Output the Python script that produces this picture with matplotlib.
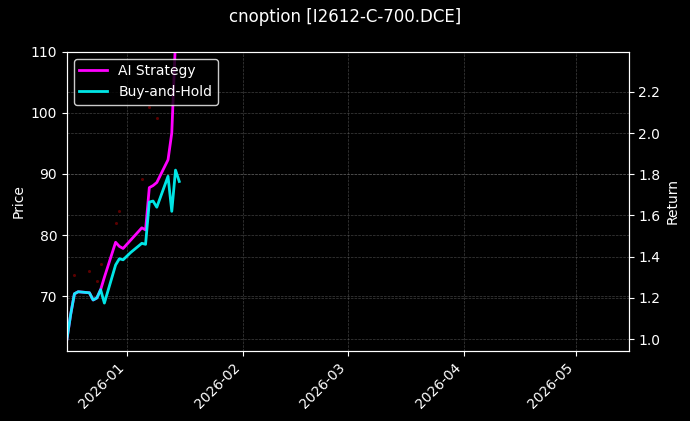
import matplotlib
matplotlib.use("Agg")
import matplotlib.pyplot as plt
import matplotlib.dates as mdates
import pandas as pd

plt.style.use("dark_background")

dates = pd.to_datetime(["2025-12-16","2025-12-17","2025-12-18","2025-12-19","2025-12-22","2025-12-23",
    "2025-12-24","2025-12-25","2025-12-26","2025-12-29","2025-12-30","2025-12-31","2026-01-02",
    "2026-01-05","2026-01-06","2026-01-07","2026-01-08","2026-01-09","2026-01-12","2026-01-13",
    "2026-01-14","2026-01-15"])
bh_ret = [1.00,1.12,1.22,1.23,1.225,1.19,1.20,1.24,1.175,1.36,1.39,1.385,1.42,
          1.465,1.46,1.665,1.67,1.64,1.79,1.62,1.82,1.765]
ai_ret = [1.00,1.12,1.22,1.23,1.225,1.19,1.20,1.24,1.30,1.47,1.45,1.44,1.48,
          1.54,1.53,1.735,1.745,1.76,1.87,2.00,2.45,2.70]
price_dates = pd.to_datetime(["2025-12-18","2025-12-22","2025-12-24","2025-12-25","2025-12-29",
    "2025-12-30","2026-01-05","2026-01-07","2026-01-09"])
price_vals = [73.4,74.1,72.5,75.2,82.0,84.0,89.1,100.9,99.2]

fig, ax = plt.subplots(figsize=(6.9, 4.21), dpi=100)
fig.patch.set_facecolor("black")
ax.set_facecolor("black")
ax.scatter(price_dates, price_vals, s=1.5, color="#5a0000", zorder=1)
ax.set_ylim(61, 110)
ax.set_yticks([70, 80, 90, 100, 110])
ax.set_ylabel("Price")
ax.grid(True, color="gray", linestyle="--", linewidth=0.5, alpha=0.5)

ax2 = ax.twinx()
l1, = ax2.plot(dates, ai_ret, color="#ff00ff", lw=2, label="AI Strategy")
l2, = ax2.plot(dates, bh_ret, color="#00ffff", lw=2, alpha=0.9, label="Buy-and-Hold")
ax2.set_ylim(0.942, 2.394)
ax2.set_yticks([1.0, 1.2, 1.4, 1.6, 1.8, 2.0, 2.2])
ax2.set_ylabel("Return")
ax2.grid(True, color="gray", linestyle="--", linewidth=0.5, alpha=0.5)

ax.set_xlim(pd.Timestamp("2025-12-16"), pd.Timestamp("2026-05-15"))
ax.xaxis.set_major_locator(mdates.MonthLocator())
ax.xaxis.set_major_formatter(mdates.DateFormatter("%Y-%m"))
plt.setp(ax.get_xticklabels(), rotation=45, ha="right")

ax2.legend(handles=[l1, l2], loc="upper left", facecolor="black", edgecolor="white")
fig.suptitle("cnoption [I2612-C-700.DCE]")
fig.subplots_adjust(left=0.097, right=0.911, top=0.877, bottom=0.166)
fig.savefig("out.png", dpi=100, facecolor="black")
